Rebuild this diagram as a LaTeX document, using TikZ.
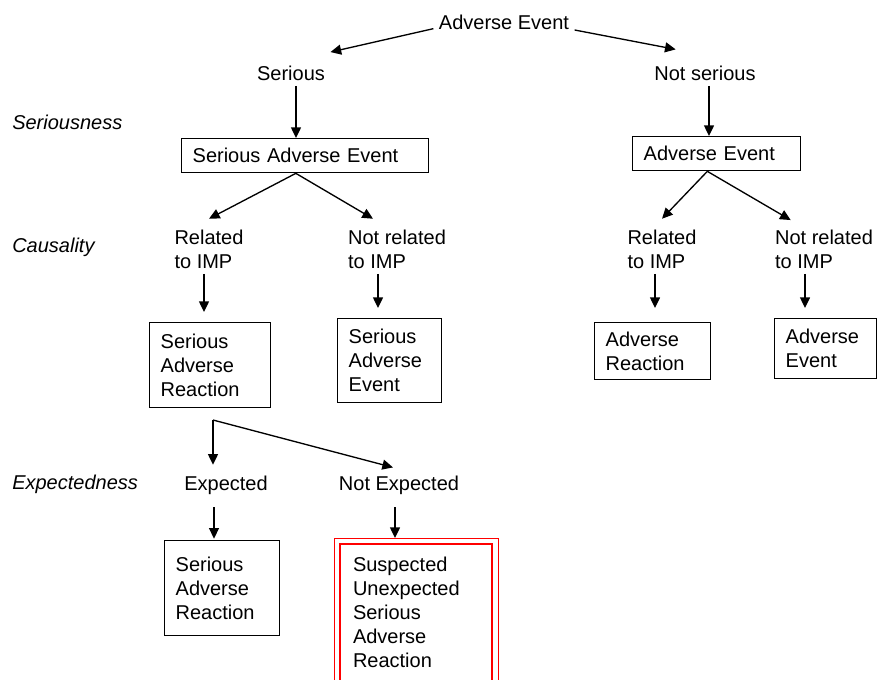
\documentclass[tikz,border=0pt]{standalone}
\usepackage{fontspec}
\setmainfont{Liberation Sans}
\usetikzlibrary{arrows.meta}

\begin{document}
\begin{tikzpicture}[
    x=0.75pt, y=-0.75pt,
    font=\fontsize{15}{18}\selectfont,
    lbl/.style={inner sep=4pt, align=left},
    level/.style={anchor=west, inner sep=0pt, font=\fontsize{15}{18}\selectfont\itshape},
    box/.style={rectangle, draw, line width=1pt, anchor=north west, align=left, inner xsep=8.25pt, inner ysep=0pt},
    arrow/.style={-{Triangle[length=8pt,width=7.5pt]}, line width=1pt}
]
    \clip (0,0) rectangle (877,679);

    % level names
    \node[level] (seriousness) at (12,122) {Seriousness};
    \node[level] (causality) at (12,247) {Causality};
    \node[level] (expectedness) at (12,484) {Expectedness};

    % seriousness
    \node[lbl] (top) at (504,22) {Adverse Event};
    \node[lbl] (serious) at (291,73) {Serious};
    \node[lbl] (notser) at (705,73) {Not serious};
    \node[box, text width=168.75pt, minimum height=25.5pt] (sae) at (181,138) {Serious Adverse Event};
    \node[box, text width=109.5pt, minimum height=25.5pt] (ae) at (632,136) {Adverse Event};

    % causality
    \node[lbl] (rel1) at (209,249) {Related\\to IMP};
    \node[lbl] (nrel1) at (397,249) {Not related\\to IMP};
    \node[lbl] (rel2) at (662,249) {Related\\to IMP};
    \node[lbl] (nrel2) at (824,249) {Not related\\to IMP};
    \node[box, text width=74.25pt, minimum height=63.75pt] (sar1) at (149,322) {Serious\\Adverse\\Reaction};
    \node[box, text width=61.5pt, minimum height=63pt] (sae2) at (337,318) {Serious\\Adverse\\Event};
    \node[box, text width=70.5pt, minimum height=42.75pt] (ar) at (594,322) {Adverse\\Reaction};
    \node[box, text width=60pt, minimum height=45pt] (ae2) at (774,318) {Adverse\\Event};

    % expectedness
    \coordinate (split) at (213,420);
    \node[lbl] (expd) at (226,485) {Expected};
    \node[lbl] (notexp) at (399,485) {Not Expected};
    \node[box, text width=69.75pt, minimum height=71.25pt] (sar2) at (164,540) {Serious\\Adverse\\Reaction};
    \node[box, draw=red, line width=1.5pt, inner xsep=9.75pt, text width=94.5pt, minimum height=102.75pt] (susar) at (339,543) {Suspected\\Unexpected\\Serious\\Adverse\\Reaction};
    \draw[red, line width=0.75pt] ([shift={(-3.75pt,3.75pt)}]susar.north west) rectangle ([shift={(3.75pt,-3.75pt)}]susar.south east);

    \draw[arrow] ([yshift=-5pt]top.west) -- ([yshift=6pt]serious.north east);
    \draw[arrow] ([yshift=-6pt]top.east) -- ([xshift=-22pt,yshift=8pt]notser.north);
    \draw[arrow] ([xshift=3.75pt]serious.south) -- ([xshift=3.75pt]serious.south |- sae.north);
    \draw[arrow] ([xshift=3pt]notser.south) -- ([xshift=3pt]notser.south |- ae.north);

    \draw[arrow] ([xshift=-7pt]sae.south) -- ([yshift=4pt]rel1.north);
    \draw[arrow] ([xshift=-7pt]sae.south) -- ([xshift=-18pt,yshift=4pt]nrel1.north);
    \draw[arrow] ([xshift=-7pt]ae.south) -- ([yshift=4pt]rel2.north);
    \draw[arrow] ([xshift=-7pt]ae.south) -- ([xshift=-25pt,yshift=3pt]nrel2.north);

    \draw[arrow, shorten >=7.5pt] ([xshift=-3.75pt]rel1.south) -- ([xshift=-3.75pt]rel1.south |- sar1.north);
    \draw[arrow, shorten >=7.5pt] ([xshift=-14.25pt]nrel1.south) -- ([xshift=-14.25pt]nrel1.south |- sae2.north);
    \draw[arrow, shorten >=10.5pt] ([xshift=-5.25pt]rel2.south) -- ([xshift=-5.25pt]rel2.south |- ar.north);
    \draw[arrow, shorten >=7.5pt] ([xshift=-14.25pt]nrel2.south) -- ([xshift=-14.25pt]nrel2.south |- ae2.north);

    \draw[arrow] (split) -- ([yshift=4pt]split |- expd.north);
    \draw[arrow] (split) -- ([xshift=-4.5pt,yshift=2pt]notexp.north);
    \draw[arrow, shorten <=5.5pt, shorten >=1pt] ([xshift=-9pt]expd.south) -- ([xshift=-9pt]expd.south |- sar2.north);
    \draw[arrow, shorten <=5.5pt, shorten >=3.75pt] ([xshift=-3pt]notexp.south) -- ([xshift=-3pt]notexp.south |- susar.north);
\end{tikzpicture}
\end{document}
